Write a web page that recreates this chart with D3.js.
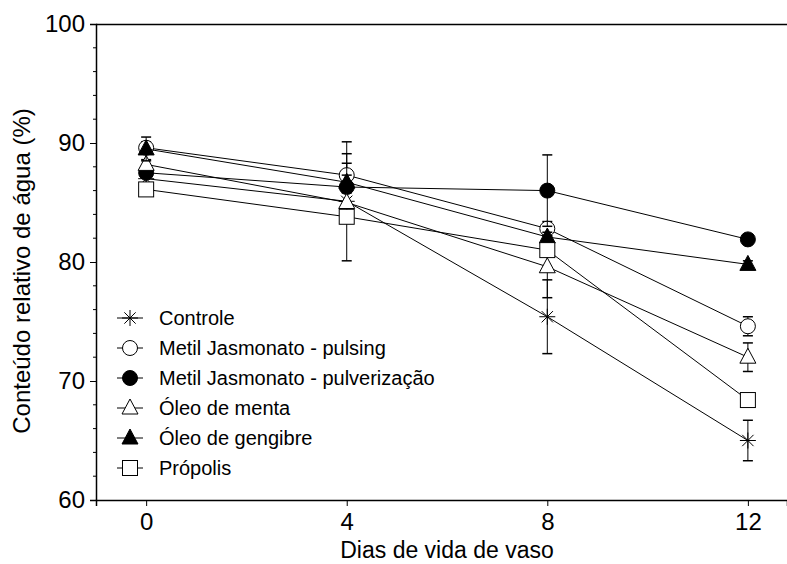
<!DOCTYPE html>
<html>
<head>
<meta charset="utf-8">
<script src="https://cdn.jsdelivr.net/npm/d3@7"></script>
<style>
  html, body { margin: 0; padding: 0; background: #fff; }
  svg { display: block; font-family: Arial, "Liberation Sans", sans-serif; }
</style>
</head>
<body>
<svg id="chart" width="787" height="564"></svg>
<script>
// Days of vase life
const days = [0, 4, 8, 12];

// Series names, as shown in the legend
const seriesNames = [
  "Controle",
  "Metil Jasmonato - pulsing",
  "Metil Jasmonato - pulverização",
  "Óleo de menta",
  "Óleo de gengibre",
  "Própolis"
];

// Marker kind per series
const seriesSymbols = ["star", "circleOpen", "circleFilled", "triangleOpen", "triangleFilled", "squareOpen"];

// Mean relative water content (%) per series, at each day
const controle      = [87.0, 85.1, 75.4, 65.0];
const mjPulsing     = [89.6, 87.3, 82.8, 74.6];
const mjPulverizacao= [87.5, 86.3, 86.0, 81.9];
const oleoMenta     = [88.2, 85.0, 79.6, 72.0];
const oleoGengibre  = [89.5, 86.7, 82.1, 79.8];
const propolis      = [86.1, 83.8, 81.0, 68.4];

// Standard errors per series, at each day
const controleErr      = [0.4, 5.0, 3.1, 1.7];
const mjPulsingErr     = [0.5, 1.0, 0.6, 0.8];
const mjPulverizacaoErr= [0.4, 2.8, 3.0, 0.3];
const oleoMentaErr     = [0.4, 0.8, 2.6, 1.2];
const oleoGengibreErr  = [1.0, 0.6, 0.4, 0.3];
const propolisErr      = [0.3, 0.5, 0.5, 0.4];

// Axis ticks
const yTicks = [60, 70, 80, 90, 100];
const yMinorTicks = d3.range(60, 100.1, 2);
const xTicks = [0, 4, 8, 12];

const means = [controle, mjPulsing, mjPulverizacao, oleoMenta, oleoGengibre, propolis];
const errs  = [controleErr, mjPulsingErr, mjPulverizacaoErr, oleoMentaErr, oleoGengibreErr, propolisErr];

const series = seriesNames.map((name, i) => ({
  name,
  symbol: seriesSymbols[i],
  points: days.map((d, j) => ({ day: d, value: means[i][j], err: errs[i][j] }))
}));

const svg = d3.select("#chart");
const mLeft = 96, mRight = 787, mTop = 24, mBottom = 500;

const x = d3.scaleLinear().domain([-1, 12.78]).range([mLeft, mRight]);
const y = d3.scaleLinear().domain([60, 100]).range([mBottom, mTop]);

// Draw one marker of the given kind centred at (cx, cy)
function drawMarker(g, kind, cx, cy) {
  const s = g.append("g").attr("transform", `translate(${cx},${cy})`);
  if (kind === "star") {
    const r = 8;
    [0, 45, 90, 135].forEach(a => {
      const t = a * Math.PI / 180;
      s.append("line")
        .attr("x1", -r * Math.cos(t)).attr("y1", -r * Math.sin(t))
        .attr("x2", r * Math.cos(t)).attr("y2", r * Math.sin(t))
        .attr("stroke", "#000").attr("stroke-width", 1);
    });
  } else if (kind === "circleOpen" || kind === "circleFilled") {
    s.append("circle").attr("r", 7.5)
      .attr("fill", kind === "circleFilled" ? "#000" : "#fff")
      .attr("stroke", "#000").attr("stroke-width", 1);
  } else if (kind === "triangleOpen" || kind === "triangleFilled") {
    const h = 15, w = 16;
    s.append("path")
      .attr("d", `M0,${-h * 0.6}L${w / 2},${h * 0.4}L${-w / 2},${h * 0.4}Z`)
      .attr("fill", kind === "triangleFilled" ? "#000" : "#fff")
      .attr("stroke", "#000").attr("stroke-width", 1);
  } else if (kind === "squareOpen") {
    const a = 15;
    s.append("rect").attr("x", -a / 2).attr("y", -a / 2)
      .attr("width", a).attr("height", a)
      .attr("fill", "#fff").attr("stroke", "#000").attr("stroke-width", 1);
  }
}

// Top border runs to the right edge
svg.append("line").attr("x1", mLeft).attr("x2", mRight).attr("y1", mTop + 0.5).attr("y2", mTop + 0.5)
  .attr("stroke", "#000").attr("stroke-width", 1.5);

// Y axis
const yAxis = d3.axisLeft(y).tickValues(yTicks).tickSize(6).tickPadding(5).tickFormat(d3.format("d"));
const gy = svg.append("g").attr("transform", `translate(${mLeft},0)`).call(yAxis);
gy.select(".domain").attr("stroke-width", 1.5);
gy.selectAll("text").attr("font-size", 24).attr("fill", "#000")
  .attr("font-family", "Arial, 'Liberation Sans', sans-serif");
gy.selectAll(".minor").data(yMinorTicks.filter(v => !yTicks.includes(v))).enter()
  .append("line").attr("class", "minor")
  .attr("x1", -3).attr("x2", 0)
  .attr("y1", d => y(d)).attr("y2", d => y(d))
  .attr("stroke", "#000");

// X axis
const xAxis = d3.axisBottom(x).tickValues(xTicks).tickSize(6).tickPadding(7).tickFormat(d3.format("d"));
const gx = svg.append("g").attr("transform", `translate(0,${mBottom})`).call(xAxis);
gx.select(".domain").attr("stroke-width", 1.5);
gx.selectAll("text").attr("font-size", 24).attr("fill", "#000")
  .attr("font-family", "Arial, 'Liberation Sans', sans-serif");

// Axis titles
svg.append("text")
  .attr("x", (x(0) + x(12)) / 2).attr("y", 558)
  .attr("text-anchor", "middle").attr("font-size", 23).attr("fill", "#000")
  .text("Dias de vida de vaso");
svg.append("text")
  .attr("transform", `translate(30,${(mTop + mBottom) / 2 + 9}) rotate(-90)`)
  .attr("text-anchor", "middle").attr("font-size", 24).attr("fill", "#000")
  .text("Conteúdo relativo de água (%)");

// Series: line, error bars, markers
const line = d3.line().x(d => x(d.day)).y(d => y(d.value));
const plot = svg.append("g");
series.forEach(s => {
  const g = plot.append("g");
  g.append("path").datum(s.points).attr("d", line)
    .attr("fill", "none").attr("stroke", "#000").attr("stroke-width", 1);
  s.points.forEach(p => {
    const cx = x(p.day);
    g.append("line").attr("x1", cx).attr("x2", cx)
      .attr("y1", y(p.value + p.err)).attr("y2", y(p.value - p.err))
      .attr("stroke", "#000").attr("stroke-width", 1);
    [p.value + p.err, p.value - p.err].forEach(v => {
      g.append("line").attr("x1", cx - 5).attr("x2", cx + 5)
        .attr("y1", y(v)).attr("y2", y(v))
        .attr("stroke", "#000").attr("stroke-width", 1.5);
    });
  });
  s.points.forEach(p => drawMarker(g, s.symbol, x(p.day), y(p.value)));
});

// Legend
const legend = svg.append("g");
series.forEach((s, i) => {
  const ly = 318 + i * 30;
  legend.append("line").attr("x1", 117).attr("x2", 143).attr("y1", ly).attr("y2", ly)
    .attr("stroke", "#000").attr("stroke-width", 1);
  drawMarker(legend, s.symbol, 130, ly);
  legend.append("text").attr("x", 159).attr("y", ly + 7)
    .attr("font-size", 20).attr("fill", "#000").text(s.name);
});
</script>
</body>
</html>
